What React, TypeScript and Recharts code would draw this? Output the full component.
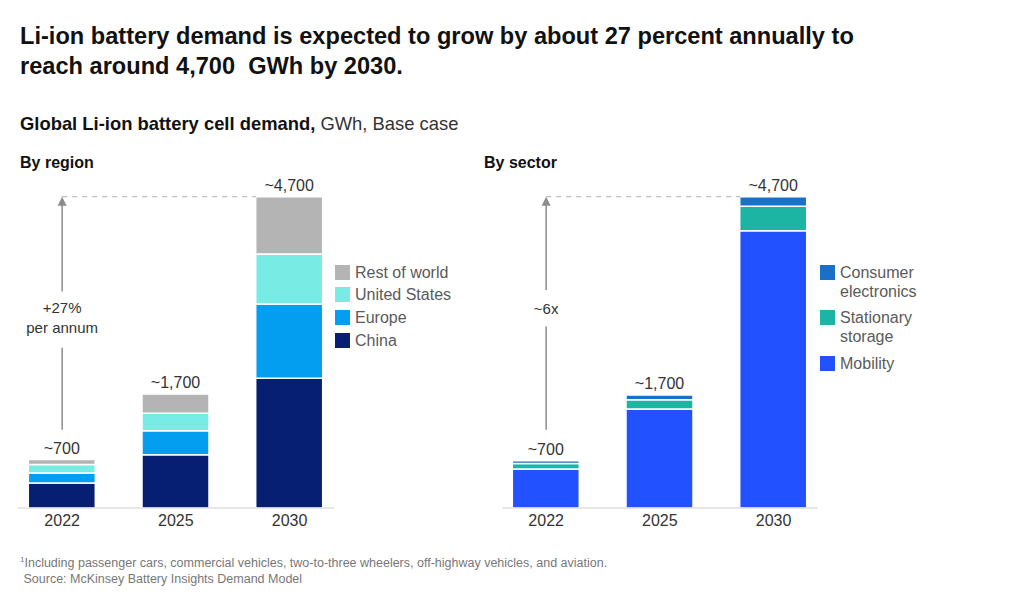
import React from 'react';
import { BarChart, Bar, XAxis, YAxis, LabelList, ReferenceLine, ReferenceDot } from 'recharts';

const YEARS = ['2022', '2025', '2030'];
const TOTAL_LABELS = ['~700', '~1,700', '~4,700'];

// By region, GWh
const CHINA = [378, 805, 1960];
const EUROPE = [151, 360, 1120];
const UNITED_STATES = [126, 265, 755];
const REST_OF_WORLD = [76, 290, 865];

// By sector, GWh
const MOBILITY = [590, 1495, 4185];
const STATIONARY_STORAGE = [80, 140, 370];
const CONSUMER_ELECTRONICS = [45, 70, 145];

const FONT = '"Liberation Sans", Arial, sans-serif';
const BAR_SIZE = 67;
const MAX_GWH = 4700;

type Series = { key: string; name: string; values: number[]; color: string };

const REGION_SERIES: Series[] = [
  { key: 'china', name: 'China', values: CHINA, color: '#071f73' },
  { key: 'europe', name: 'Europe', values: EUROPE, color: '#049ef0' },
  { key: 'us', name: 'United States', values: UNITED_STATES, color: '#78ece4' },
  { key: 'row', name: 'Rest of world', values: REST_OF_WORLD, color: '#b4b4b4' },
];

const SECTOR_SERIES: Series[] = [
  { key: 'mobility', name: 'Mobility', values: MOBILITY, color: '#2251ff' },
  { key: 'stationary', name: 'Stationary storage', values: STATIONARY_STORAGE, color: '#1cb4a2' },
  { key: 'consumer', name: 'Consumer electronics', values: CONSUMER_ELECTRONICS, color: '#1970c6' },
];

const buildRows = (series: Series[]) =>
  YEARS.map((year, i) => {
    const row: Record<string, any> = { year, label: TOTAL_LABELS[i] };
    series.forEach((s) => {
      row[s.key] = s.values[i];
    });
    return row;
  });

const ArrowHead = (props: any) => {
  const { x1, y1, y2 } = props;
  const top = Math.min(y1, y2);
  const bottom = Math.max(y1, y2);
  return (
    <g>
      <line x1={x1} x2={x1} y1={bottom} y2={top + 6} stroke="#8c8c8c" strokeWidth={1.5} />
      <path d={`M${x1},${top} L${x1 - 4.5},${top + 9} L${x1 + 4.5},${top + 9} Z`} fill="#8c8c8c" />
    </g>
  );
};

const DashedLead = (props: any) => {
  const { x1, y1, x2 } = props;
  return (
    <line x1={x1} x2={x2 - BAR_SIZE / 2} y1={y1} y2={y1} stroke="#b0b0b0" strokeWidth={1} strokeDasharray="5 5" />
  );
};

const TotalLabel = (props: any) => {
  const { x, y, width, index } = props;
  return (
    <text x={x + width / 2} y={y - 6} textAnchor="middle" fontFamily={FONT} fontSize={16} fill="#333">
      {TOTAL_LABELS[index]}
    </text>
  );
};

type Growth = { from: number; gapLow: number; gapHigh: number; textAt: number; lines: string[] };

const GrowthChart = ({ series, growth }: { series: Series[]; growth: Growth }) => {
  const rows = buildRows(series);
  const topKey = series[series.length - 1].key;
  return (
    <BarChart
      width={470}
      height={370}
      data={rows}
      margin={{ top: 26.7, right: 136, bottom: 2, left: 18 }}
    >
      <XAxis
        dataKey="year"
        axisLine={{ stroke: '#cfcfcf' }}
        tickLine={false}
        tickSize={0}
        tickMargin={7}
        height={30}
        padding={{ left: -12.7, right: -12.4 }}
        tick={{ fill: '#333', fontSize: 16, fontFamily: FONT }}
      />
      <YAxis hide domain={[0, MAX_GWH]} />
      {series.map((s) => (
        <Bar
          key={s.key}
          dataKey={s.key}
          name={s.name}
          stackId="total"
          fill={s.color}
          stroke="#fff"
          strokeWidth={1.5}
          barSize={BAR_SIZE}
          isAnimationActive={false}
        >
          {s.key === topKey && <LabelList dataKey="label" content={<TotalLabel />} />}
        </Bar>
      ))}
      <ReferenceLine
        segment={[{ x: YEARS[0], y: MAX_GWH }, { x: YEARS[2], y: MAX_GWH }]}
        shape={<DashedLead />}
      />
      <ReferenceLine
        segment={[{ x: YEARS[0], y: growth.gapHigh }, { x: YEARS[0], y: MAX_GWH }]}
        shape={<ArrowHead />}
      />
      <ReferenceLine
        segment={[{ x: YEARS[0], y: growth.from }, { x: YEARS[0], y: growth.gapLow }]}
        stroke="#8c8c8c"
        strokeWidth={1.5}
      />
      <ReferenceDot
        x={YEARS[0]}
        y={growth.textAt}
        shape={(p: any) => (
          <text textAnchor="middle" fontFamily={FONT} fontSize={15} fill="#333">
            {growth.lines.map((line, i) => (
              <tspan key={line} x={p.cx} y={p.cy + (i - (growth.lines.length - 1) / 2) * 20 + 5}>
                {line}
              </tspan>
            ))}
          </text>
        )}
      />
    </BarChart>
  );
};

const SeriesLegend = ({ series, left, textWidth, gap }: { series: Series[]; left: number; textWidth?: number; gap: number }) => (
  <div style={{ position: 'absolute', left, top: 262.5, fontFamily: FONT, fontSize: 16, color: '#5a5a5a' }}>
    {[...series].reverse().map((s) => (
      <div key={s.key} style={{ display: 'flex', alignItems: 'flex-start', marginBottom: gap }}>
        <div style={{ width: 15, height: 15, marginTop: 2, background: s.color, flexShrink: 0 }} />
        <div style={{ marginLeft: 5, lineHeight: '19px', width: textWidth }}>{s.name}</div>
      </div>
    ))}
  </div>
);

export default function App() {
  return (
    <div style={{ position: 'absolute', left: 0, top: 0, width: 1024, height: 594, background: '#fff', fontFamily: FONT, color: '#111' }}>
      <div style={{ position: 'absolute', left: 20, top: 21, fontSize: 23.6, fontWeight: 700, lineHeight: '30px', whiteSpace: 'nowrap' }}>
        Li-ion battery demand is expected to grow by about 27 percent annually to
        <br />
        reach around 4,700&nbsp; GWh by 2030.
      </div>
      <div style={{ position: 'absolute', left: 20, top: 113, fontSize: 18.4, whiteSpace: 'nowrap' }}>
        <b>Global Li-ion battery cell demand,</b> <span style={{ color: '#333' }}>GWh, Base case</span>
      </div>
      <div style={{ position: 'absolute', left: 20, top: 154, fontSize: 16, fontWeight: 700 }}>By region</div>
      <div style={{ position: 'absolute', left: 484, top: 154, fontSize: 16, fontWeight: 700 }}>By sector</div>

      <div style={{ position: 'absolute', left: 0, top: 170 }}>
        <GrowthChart
          series={REGION_SERIES}
          growth={{ from: 1180, gapLow: 2420, gapHigh: 3270, textAt: 2874, lines: ['+27%', 'per annum'] }}
        />
      </div>
      <div style={{ position: 'absolute', left: 484, top: 170 }}>
        <GrowthChart
          series={SECTOR_SERIES}
          growth={{ from: 1180, gapLow: 2740, gapHigh: 3290, textAt: 3005, lines: ['~6x'] }}
        />
      </div>

      <SeriesLegend series={REGION_SERIES} left={335} gap={3.7} />
      <SeriesLegend series={SECTOR_SERIES} left={820} textWidth={90} gap={7.5} />

      <div style={{ position: 'absolute', left: 20, top: 552, fontSize: 12.5, lineHeight: '16px', color: '#777', whiteSpace: 'nowrap' }}>
        <sup style={{ fontSize: 8 }}>1</sup>Including passenger cars, commercial vehicles, two-to-three wheelers, off-highway vehicles, and aviation.
        <br />
        &nbsp;Source: McKinsey Battery Insights Demand Model
      </div>
    </div>
  );
}
